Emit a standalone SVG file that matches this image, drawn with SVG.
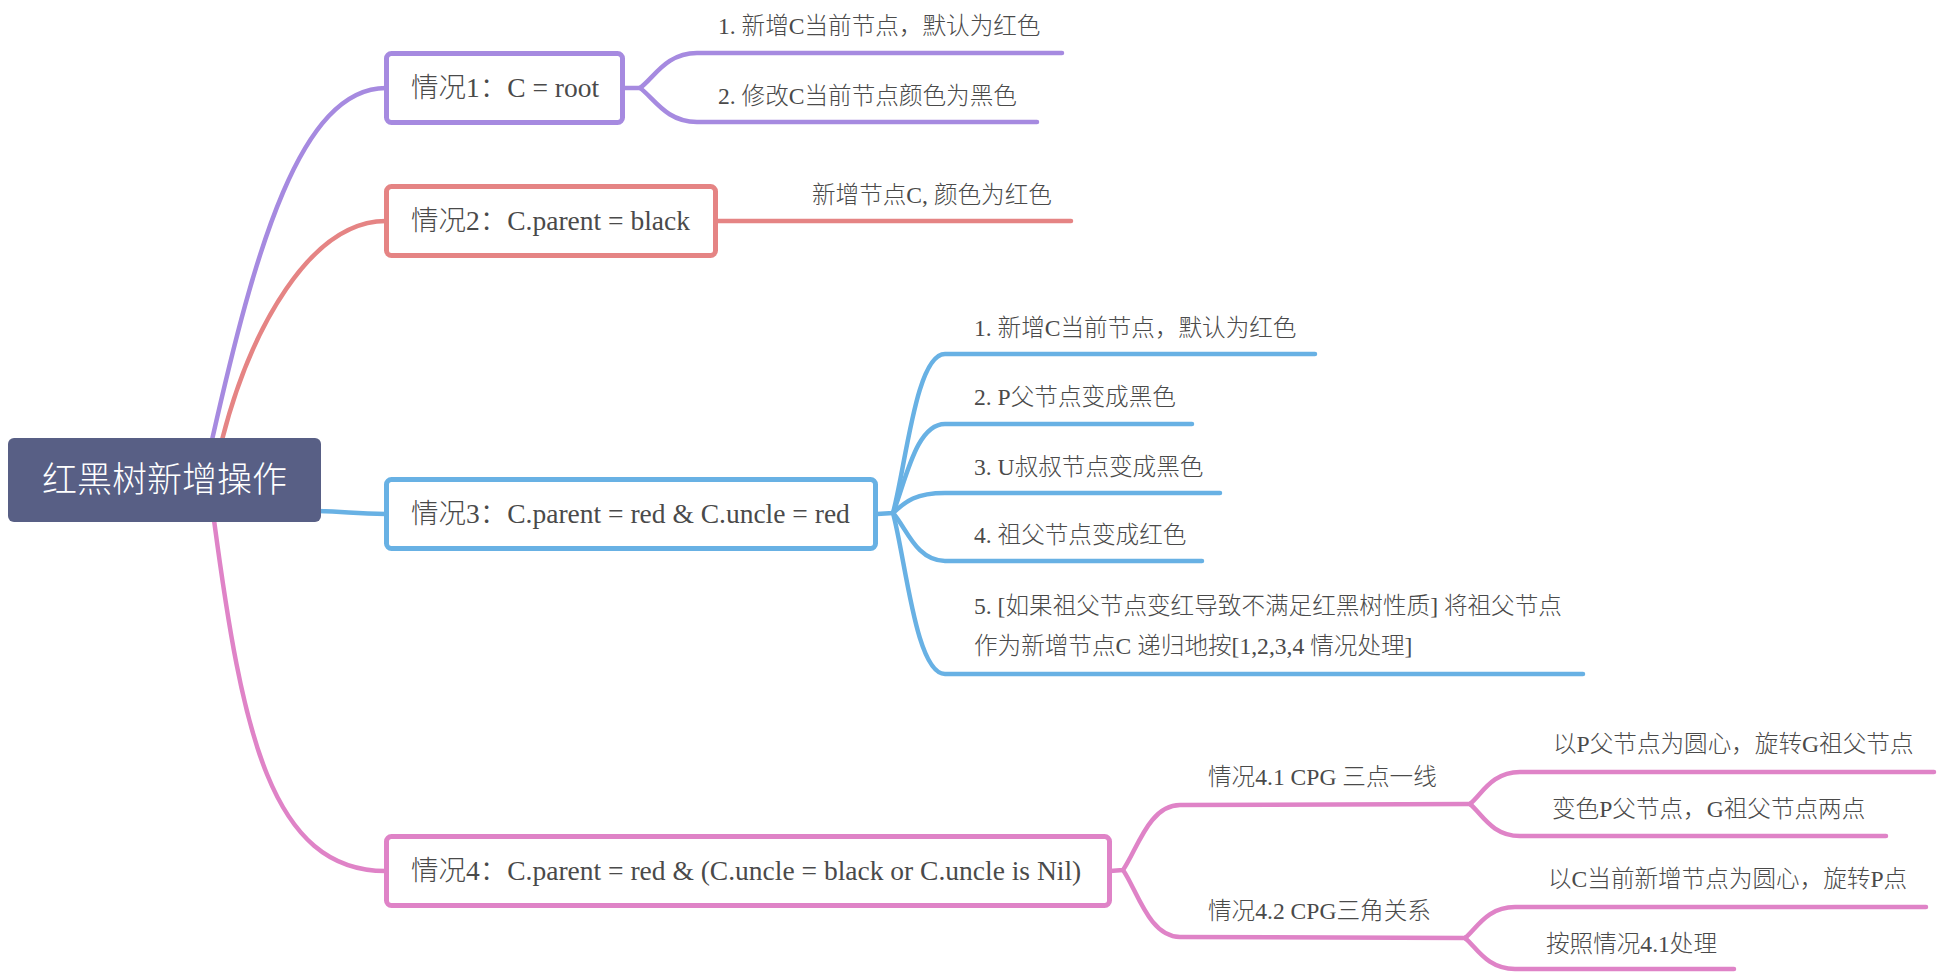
<svg xmlns="http://www.w3.org/2000/svg" width="1938" height="975" viewBox="0 0 1938 975">
<style>
  .t { font-family: "Liberation Serif", "Noto Sans CJK SC", serif; fill: #4a4a4a; font-weight: 300; }
  .case { font-size: 27.5px; }
  .sub { font-size: 23.6px; }
  .root { font-family: "Liberation Serif", "Noto Sans CJK SC", serif; font-size: 35px; fill: #ffffff; font-weight: 300; }
  .box { fill: #ffffff; stroke-width: 5; }
  .ln { fill: none; stroke-width: 4.5; stroke-linecap: round; stroke-linejoin: round; }
  .pu { stroke: #a68ae0; }
  .rd { stroke: #e58484; }
  .bl { stroke: #68b1e4; }
  .pk { stroke: #df83c7; }
</style>
<rect width="1938" height="975" fill="#ffffff"/>
<g id="connectors">
  <path class="ln pu" d="M 212 440 C 255 250, 300 88, 386 88"/>
  <path class="ln rd" d="M 222 440 C 250 330, 310 221, 386 221"/>
  <path class="ln bl" d="M 318 511 C 350 512, 355 514, 386 514"/>
  <path class="ln pk" d="M 214 520 C 242 730, 270 871, 386 871"/>
  <path class="ln pu" d="M 624 88 L 640 88 C 654 78, 666 53, 697 53 L 1062 53"/>
  <path class="ln pu" d="M 640 88 C 654 98, 666 122, 697 122 L 1037 122"/>
  <path class="ln rd" d="M 716 221 L 1071 221"/>
  <path class="ln bl" d="M 877 514 L 893 513 C 906 465, 916 354, 945 354 L 1315 354"/>
  <path class="ln bl" d="M 893 513 C 906 480, 916 424, 945 424 L 1192 424"/>
  <path class="ln bl" d="M 893 513 C 906 501, 916 493, 945 493 L 1220 493"/>
  <path class="ln bl" d="M 893 513 C 906 527, 916 561, 945 561 L 1202 561"/>
  <path class="ln bl" d="M 893 513 C 906 562, 916 674, 945 674 L 1583 674"/>
  <path class="ln pk" d="M 1110 871 L 1123 870 C 1137 850, 1149 805, 1180 805 L 1470 804"/>
  <path class="ln pk" d="M 1123 870 C 1137 890, 1149 937, 1180 937 L 1465 938"/>
  <path class="ln pk" d="M 1470 804 C 1482 794, 1492 772, 1520 772 L 1934 772"/>
  <path class="ln pk" d="M 1470 804 C 1482 814, 1492 836, 1520 836 L 1886 836"/>
  <path class="ln pk" d="M 1465 938 C 1477 928, 1487 907, 1515 907 L 1926 907"/>
  <path class="ln pk" d="M 1465 938 C 1477 948, 1487 969, 1515 969 L 1734 969"/>
</g>
<g id="root">
  <rect x="8" y="438" width="313" height="84" rx="6" fill="#585f85"/>
  <text class="root" x="164.5" y="492" text-anchor="middle">红黑树新增操作</text>
</g>
<g id="case1">
  <rect class="box pu" x="386.5" y="53.5" width="236" height="69" rx="5"/>
  <text class="t case" x="411" y="97">情况1：C = root</text>
</g>
<g id="case1-1"><text class="t sub" x="718" y="34">1. 新增C当前节点，默认为红色</text></g>
<g id="case1-2"><text class="t sub" x="718" y="104">2. 修改C当前节点颜色为黑色</text></g>
<g id="case2">
  <rect class="box rd" x="386.5" y="186.5" width="329" height="69" rx="5"/>
  <text class="t case" x="411" y="230">情况2：C.parent = black</text>
</g>
<g id="case2-1"><text class="t sub" x="812" y="203">新增节点C, 颜色为红色</text></g>
<g id="case3">
  <rect class="box bl" x="386.5" y="479.5" width="489" height="69" rx="5"/>
  <text class="t case" x="411" y="523">情况3：C.parent = red &amp; C.uncle = red</text>
</g>
<g id="case3-1"><text class="t sub" x="974" y="336">1. 新增C当前节点，默认为红色</text></g>
<g id="case3-2"><text class="t sub" x="974" y="405">2. P父节点变成黑色</text></g>
<g id="case3-3"><text class="t sub" x="974" y="475">3. U叔叔节点变成黑色</text></g>
<g id="case3-4"><text class="t sub" x="974" y="543">4. 祖父节点变成红色</text></g>
<g id="case3-5">
  <text class="t sub" x="974" y="614">5. [如果祖父节点变红导致不满足红黑树性质] 将祖父节点</text>
  <text class="t sub" x="974" y="654">作为新增节点C 递归地按[1,2,3,4 情况处理]</text>
</g>
<g id="case4">
  <rect class="box pk" x="386.5" y="836.5" width="723" height="69" rx="5"/>
  <text class="t case" x="411" y="880">情况4：C.parent = red &amp; (C.uncle = black or C.uncle is Nil)</text>
</g>
<g id="case4-1"><text class="t sub" x="1208" y="785">情况4.1 CPG 三点一线</text></g>
<g id="case4-1-1"><text class="t sub" x="1553" y="752">以P父节点为圆心，旋转G祖父节点</text></g>
<g id="case4-1-2"><text class="t sub" x="1552" y="817">变色P父节点，G祖父节点两点</text></g>
<g id="case4-2"><text class="t sub" x="1208" y="919">情况4.2 CPG三角关系</text></g>
<g id="case4-2-1"><text class="t sub" x="1548" y="887">以C当前新增节点为圆心，旋转P点</text></g>
<g id="case4-2-2"><text class="t sub" x="1546" y="952">按照情况4.1处理</text></g>
</svg>
